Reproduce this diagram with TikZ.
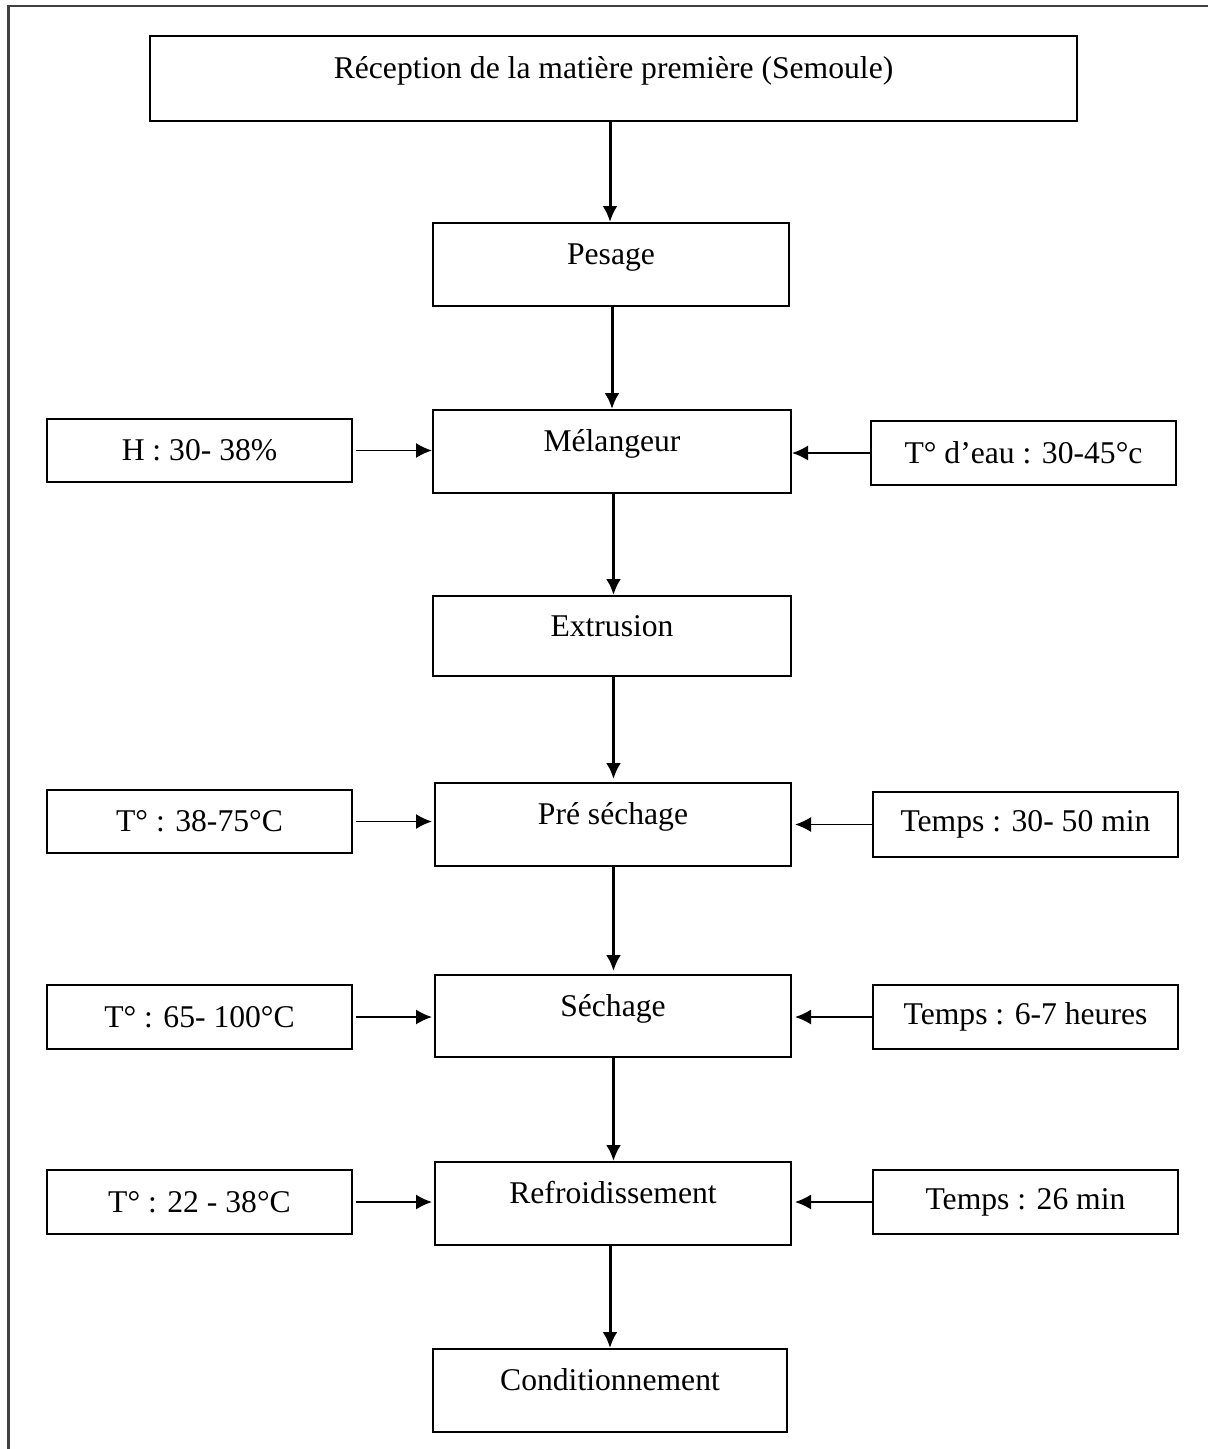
\documentclass[tikz,border=0pt]{standalone}
\usepackage{fontspec}
\setmainfont{Liberation Serif}
\usepackage{tikz}
\usetikzlibrary{arrows.meta}

\begin{document}
\begin{tikzpicture}[
  font=\fontsize{18}{21}\selectfont,
  etape/.style={draw, line width=0.04cm, minimum width=7.12cm, minimum height=1.66cm, text height=0.45cm, text depth=0.45cm, inner sep=0pt},
  param/.style={draw, line width=0.04cm, minimum width=6.10cm, minimum height=1.27cm, inner sep=0pt},
  fleche/.style={line width=0.06cm, -{Latex[length=0.32cm,width=0.3cm]}},
  entree/.style={line width=0.035cm, -{Latex[length=0.32cm,width=0.3cm]}}
]

\useasboundingbox (0cm,0cm) rectangle (24.16cm,-28.98cm);
\clip (0cm,0cm) rectangle (24.16cm,-28.98cm);

\draw [line width=0.045cm, color=black!75] (0.17cm,-0.12cm) rectangle (26cm,-31cm);

% etapes principales
\node [etape, minimum width=18.54cm, minimum height=1.70cm] (reception) at (12.27cm,-1.57cm) {Réception de la matière première (Semoule)};
\node [etape] (pesage) at (12.22cm,-5.29cm) {Pesage};
\node [etape, minimum width=7.16cm] (melangeur) at (12.24cm,-9.03cm) {Mélangeur};
\node [etape, minimum width=7.16cm, minimum height=1.60cm] (extrusion) at (12.24cm,-12.72cm) {Extrusion};
\node [etape] (presechage) at (12.26cm,-16.49cm) {Pré séchage};
\node [etape, minimum height=1.64cm] (sechage) at (12.26cm,-20.32cm) {Séchage};
\node [etape] (refroid) at (12.26cm,-24.07cm) {Refroidissement};
\node [etape, minimum width=7.08cm] (condit) at (12.20cm,-27.81cm) {Conditionnement};

% parametres
\node [param] (humid) at (3.99cm,-9.01cm) {H : 30- 38\%};
\node [param, minimum height=1.28cm] (teau) at (20.47cm,-9.06cm) {T° d’eau : 30-45°c};
\node [param] (tpre) at (3.99cm,-16.43cm) {T° : 38-75°C};
\node [param, minimum height=1.30cm] (tmpspre) at (20.51cm,-16.49cm) {Temps : 30- 50 min};
\node [param] (tsech) at (3.99cm,-20.34cm) {T° : 65- 100°C};
\node [param] (tmpssech) at (20.51cm,-20.34cm) {Temps : 6-7 heures};
\node [param] (trefr) at (3.99cm,-24.04cm) {T° : 22 - 38°C};
\node [param] (tmpsrefr) at (20.51cm,-24.04cm) {Temps : 26 min};

% fleches
\draw [fleche] (reception.south -| 12.20cm,0) -- (pesage.north -| 12.20cm,0);
\draw [fleche] (pesage.south -| 12.24cm,0) -- (melangeur.north -| 12.24cm,0);
\draw [fleche] (melangeur.south -| 12.27cm,0) -- (extrusion.north -| 12.27cm,0);
\draw [fleche] (extrusion.south -| 12.27cm,0) -- ([yshift=0.06cm]presechage.north -| 12.27cm,0);
\draw [fleche] (presechage.south -| 12.27cm,0) -- ([yshift=0.06cm]sechage.north -| 12.27cm,0);
\draw [fleche] (sechage.south -| 12.27cm,0) -- (refroid.north -| 12.27cm,0);
\draw [fleche] (refroid.south -| 12.20cm,0) -- (condit.north -| 12.20cm,0);

\draw [entree] ([xshift=0.06cm]humid.east) -- (humid.east -| melangeur.west);
\draw [entree] (teau.west) -- (teau.west -| melangeur.east);
\draw [entree] ([xshift=0.06cm]tpre.east) -- ([xshift=-0.04cm]tpre.east -| presechage.west);
\draw [entree] (tmpspre.west) -- ([xshift=0.06cm]tmpspre.west -| presechage.east);
\draw [entree] ([xshift=0.06cm]tsech.east) -- ([xshift=-0.04cm]tsech.east -| sechage.west);
\draw [entree] (tmpssech.west) -- ([xshift=0.06cm]tmpssech.west -| sechage.east);
\draw [entree] ([xshift=0.06cm]trefr.east) -- ([xshift=-0.04cm]trefr.east -| refroid.west);
\draw [entree] (tmpsrefr.west) -- ([xshift=0.06cm]tmpsrefr.west -| refroid.east);

\end{tikzpicture}
\end{document}
